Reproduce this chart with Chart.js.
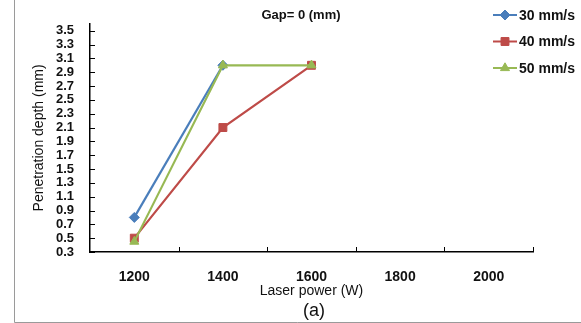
<!DOCTYPE html>
<html>
<head>
<meta charset="utf-8">
<script src="https://cdn.jsdelivr.net/npm/chart.js@4.4.1/dist/chart.umd.min.js"></script>
<style>
  html, body { margin: 0; padding: 0; background: #fff; }
  #wrap { width: 581px; height: 323px; }
</style>
</head>
<body>
<div id="wrap"><canvas id="depthChart" width="581" height="323"></canvas></div>
<script>
// values
const powers = ["1200", "1400", "1600", "1800", "2000"];
const speed30 = [0.8, 3.0, null, null, null];
const speed40 = [0.5, 2.1, 3.0, null, null];
const speed50 = [0.45, 3.0, 3.0, null, null];
const seriesNames = ["30 mm/s", "40 mm/s", "50 mm/s"];
const yTicks = [0.3, 0.5, 0.7, 0.9, 1.1, 1.3, 1.5, 1.7, 1.9, 2.1, 2.3, 2.5, 2.7, 2.9, 3.1, 3.3, 3.5];

const FONT = "'Liberation Sans', Arial, sans-serif";

/* extra drawing: inside ticks, frame, title, legend, caption */
const extras = {
  id: "extras",
  beforeDatasetsDraw(chart) {
    const { ctx, chartArea: a, scales: { x, y } } = chart;
    ctx.save();
    ctx.strokeStyle = "#000";
    ctx.lineWidth = 1;
    ctx.beginPath();
    yTicks.forEach(v => {
      const py = Math.round(y.getPixelForValue(v)) + 0.5;
      ctx.moveTo(a.left, py);
      ctx.lineTo(a.left + 5, py);
    });
    for (let i = 1; i <= powers.length; i++) {
      const px = Math.round(x.getPixelForValue(i - 0.5)) + 0.5;
      ctx.moveTo(px, a.bottom);
      ctx.lineTo(px, a.bottom - 5);
    }
    ctx.stroke();
    ctx.restore();
  },
  afterDraw(chart) {
    const { ctx } = chart;
    ctx.save();

    // frame
    ctx.strokeStyle = "#9a9a9a";
    ctx.lineWidth = 1;
    ctx.beginPath();
    ctx.moveTo(14.5, 0);
    ctx.lineTo(14.5, 322.5);
    ctx.lineTo(581, 322.5);
    ctx.stroke();

    ctx.fillStyle = "#111";
    ctx.textAlign = "center";
    ctx.textBaseline = "middle";
    ctx.font = "bold 13px " + FONT;
    ctx.fillText("Gap= 0 (mm)", 301, 15);

    ctx.font = "18px " + FONT;
    ctx.fillText("(a)", 314, 311);

    // legend
    chart.data.datasets.forEach((ds, i) => {
      const ly = 15 + i * 26.5;
      ctx.strokeStyle = ds.borderColor;
      ctx.fillStyle = ds.backgroundColor;
      ctx.lineWidth = 2;
      ctx.beginPath();
      ctx.moveTo(493, ly);
      ctx.lineTo(517, ly);
      ctx.stroke();
      ctx.lineWidth = 1;
      Chart.helpers.drawPoint(ctx, {
        pointStyle: ds.pointStyle,
        radius: ds.pointRadius,
        rotation: 0,
        borderWidth: 1
      }, 505, ly);
      ctx.fillStyle = "#111";
      ctx.textAlign = "left";
      ctx.font = "bold 14px " + FONT;
      ctx.fillText(ds.label, 519, ly + 1);
    });

    ctx.restore();
  }
};

const ctx = document.getElementById("depthChart").getContext("2d");

new Chart(ctx, {
  type: "line",
  data: {
    labels: powers,
    datasets: [
      {
        label: seriesNames[0],
        data: speed30,
        borderColor: "#4a7ebb",
        backgroundColor: "#4a7ebb",
        pointStyle: "rectRot",
        pointRadius: 5,
        order: 3
      },
      {
        label: seriesNames[1],
        data: speed40,
        borderColor: "#be4b48",
        backgroundColor: "#be4b48",
        pointStyle: "rect",
        pointRadius: 5.6,
        order: 2
      },
      {
        label: seriesNames[2],
        data: speed50,
        borderColor: "#98b954",
        backgroundColor: "#98b954",
        pointStyle: "triangle",
        pointRadius: 5.2,
        order: 1
      }
    ]
  },
  options: {
    responsive: false,
    animation: false,
    devicePixelRatio: 1,
    spanGaps: false,
    layout: { padding: { top: 14, right: 48, left: 0, bottom: 0 } },
    elements: {
      line: { borderWidth: 2.2, tension: 0 },
      point: { borderWidth: 1, hoverRadius: 5 }
    },
    plugins: {
      legend: { display: false },
      tooltip: { enabled: false }
    },
    scales: {
      x: {
        type: "category",
        offset: true,
        grid: { display: false, offset: true, drawTicks: false },
        border: { display: true, color: "#000", width: 1.5 },
        ticks: {
          color: "#111",
          padding: 17,
          maxRotation: 0,
          font: { family: FONT, size: 14, weight: "bold" }
        },
        title: {
          display: true,
          text: "Laser power (W)",
          color: "#111",
          padding: { top: 0, bottom: 23 },
          font: { family: FONT, size: 14 }
        },
        afterFit: (scale) => { scale.height = 71; }
      },
      y: {
        min: 0.3,
        max: 3.6,
        grid: { display: false, drawTicks: false },
        border: { display: true, color: "#000", width: 1.5 },
        afterBuildTicks: (scale) => {
          scale.ticks = yTicks.map(v => ({ value: v }));
        },
        ticks: {
          color: "#111",
          padding: 16,
          autoSkip: false,
          font: { family: FONT, size: 13, weight: "bold" },
          callback: (value) => Number(value).toFixed(1)
        },
        title: {
          display: true,
          text: "Penetration depth (mm)",
          color: "#111",
          padding: { top: 31, bottom: 0 },
          font: { family: FONT, size: 14 }
        },
        afterFit: (scale) => { scale.width = 90; }
      }
    }
  },
  plugins: [extras]
});
</script>
</body>
</html>
